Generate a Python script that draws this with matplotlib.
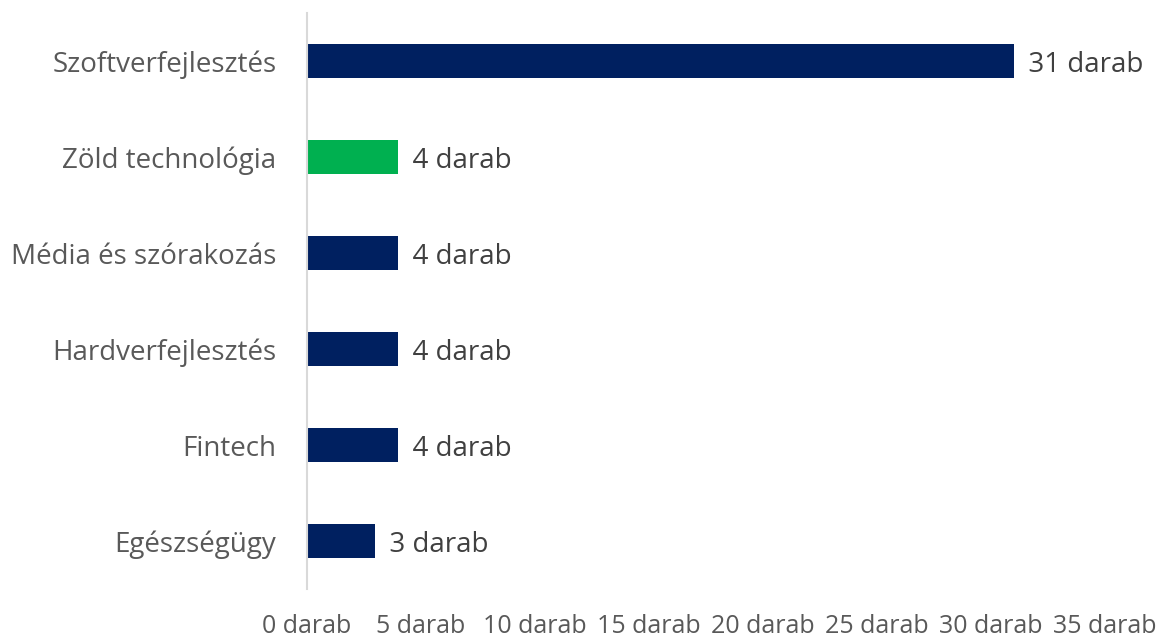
import numpy as np
from matplotlib import pyplot as plt

plt.rcParams['font.family'] = ['Open Sans', 'DejaVu Sans']

categories = ["Szoftverfejlesztés", "Zöld technológia", "Média és szórakozás",
              "Hardverfejlesztés", "Fintech", "Egészségügy"]
values = [31, 4, 4, 4, 4, 3]
colors = ["#002060", "#00B050", "#002060", "#002060", "#002060", "#002060"]
xticks = [0, 5, 10, 15, 20, 25, 30, 35]

fig = plt.figure(figsize=(11.62, 6.37), dpi=100)
ax = fig.add_axes([307 / 1162, 1 - 589 / 637, (1105 - 307) / 1162, 576 / 637])

ys = np.arange(len(categories))[::-1]
ax.barh(ys, values, height=0.35, color=colors)

for y, v in zip(ys, values):
    ax.text(v, y, "  %d darab" % v, va="center_baseline", ha="left",
            fontsize=20, color="#404040")

ax.set_xlim(0, 35)
ax.set_ylim(-0.5, len(categories) - 0.5)
ax.set_yticks(ys)
ax.set_yticklabels(categories, fontsize=20, color="#595959")
ax.set_xticks(xticks)
ax.set_xticklabels(["%d darab" % t for t in xticks], fontsize=18, color="#595959")
ax.tick_params(axis="y", length=0, pad=22)
ax.tick_params(axis="x", length=0, pad=18)

for s in ["top", "right", "bottom"]:
    ax.spines[s].set_visible(False)
ax.spines["left"].set_color("#D9D9D9")
ax.spines["left"].set_linewidth(1.5)

fig.savefig("out.png", dpi=100)
